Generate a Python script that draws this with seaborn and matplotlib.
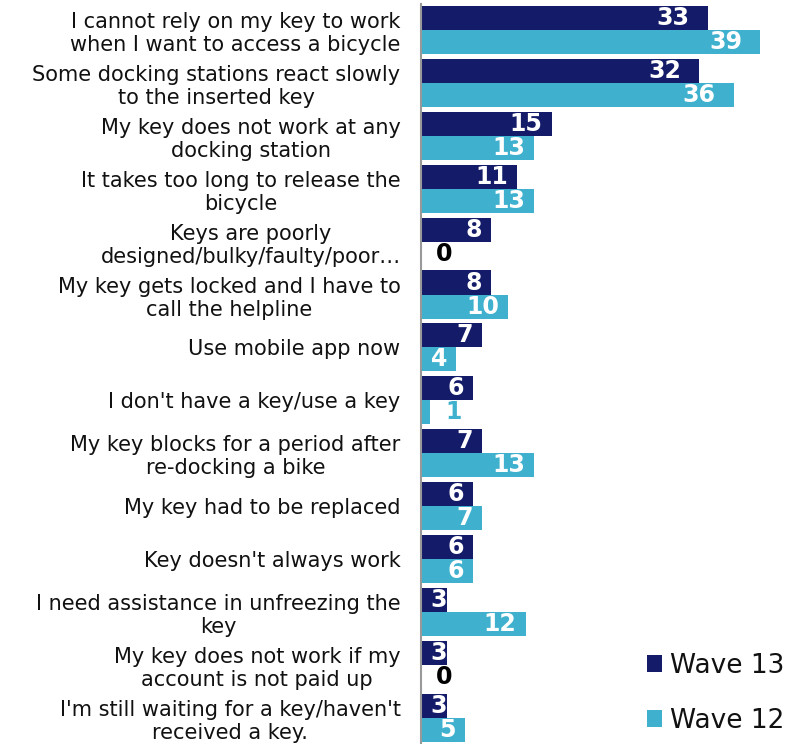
import matplotlib
matplotlib.use("Agg")
import matplotlib.pyplot as plt
import seaborn as sns
import pandas as pd
from matplotlib.transforms import offset_copy
from matplotlib.patches import Patch

categories = [
    "I cannot rely on my key to work\nwhen I want to access a bicycle",
    "Some docking stations react slowly\nto the inserted key",
    "My key does not work at any\ndocking station",
    "It takes too long to release the\nbicycle",
    "Keys are poorly\ndesigned/bulky/faulty/poor\u2026",
    "My key gets locked and I have to\ncall the helpline",
    "Use mobile app now",
    "I don't have a key/use a key",
    "My key blocks for a period after\nre-docking a bike",
    "My key had to be replaced",
    "Key doesn't always work",
    "I need assistance in unfreezing the\nkey",
    "My key does not work if my\naccount is not paid up",
    "I'm still waiting for a key/haven't\nreceived a key.",
]
wave13 = [33, 32, 15, 11, 8, 8, 7, 6, 7, 6, 6, 3, 3, 3]
wave12 = [39, 36, 13, 13, 0, 10, 4, 1, 13, 7, 6, 12, 0, 5]
series = ["Wave 13", "Wave 12"]
colors = {"Wave 13": "#141B69", "Wave 12": "#3FB1CE"}

df = pd.DataFrame({
    "category": categories * 2,
    "value": wave13 + wave12,
    "series": [series[0]] * len(categories) + [series[1]] * len(categories),
})

sns.set_style("white")
plt.rcParams["font.family"] = ["DejaVu Sans"]

fig = plt.figure(figsize=(7.92, 7.44), dpi=100)
ax = fig.add_axes([0.532, 0.0, 0.468, 0.995])

sns.barplot(data=df, y="category", x="value", hue="series", hue_order=series,
            palette=colors, orient="h", width=0.91, dodge=True, gap=0,
            ax=ax, legend=False, saturation=1, edgecolor="none")

ax.set_xlim(0, 42.7)
ax.set_ylim(13.5, -0.5)
ax.set_xlabel("")
ax.set_ylabel("")
ax.set_xticks([])
for s in ["top", "right", "bottom"]:
    ax.spines[s].set_visible(False)
ax.spines["left"].set_color("#999999")
ax.spines["left"].set_linewidth(1.5)
ax.tick_params(axis="y", length=0, pad=15)
for lbl in ax.get_yticklabels():
    lbl.set_fontsize(15)
    lbl.set_multialignment("center")
    lbl.set_linespacing(1.2)
    lbl.set_color("#111111")

for cont, name in zip(ax.containers, series):
    for bar in cont:
        v = bar.get_width()
        y = bar.get_y() + bar.get_height() / 2
        if v <= 1:
            color = "black" if v == 0 else colors[name]
            tr = offset_copy(ax.transData, fig=fig, x=15, y=0, units="dots")
            ax.text(v, y, f"{int(v)}", ha="left", va="center", fontsize=17,
                    fontweight="bold", color=color, transform=tr)
        else:
            off = -18 if v >= 30 else (-1 if v <= 3 else -9)
            tr = offset_copy(ax.transData, fig=fig, x=off, y=0, units="dots")
            ax.text(v, y, f"{int(v)}", ha="right", va="center", fontsize=17,
                    fontweight="bold", color="white", transform=tr)

handles = [Patch(facecolor=colors[s], edgecolor="none") for s in series]
fig.legend(handles, series, loc="center left", bbox_to_anchor=(0.787, 0.068),
           frameon=False, fontsize=19, handlelength=0.57, handleheight=0.57,
           handletextpad=0.3, labelspacing=1.1, labelcolor="#111111")

fig.savefig("out.png", dpi=100)
